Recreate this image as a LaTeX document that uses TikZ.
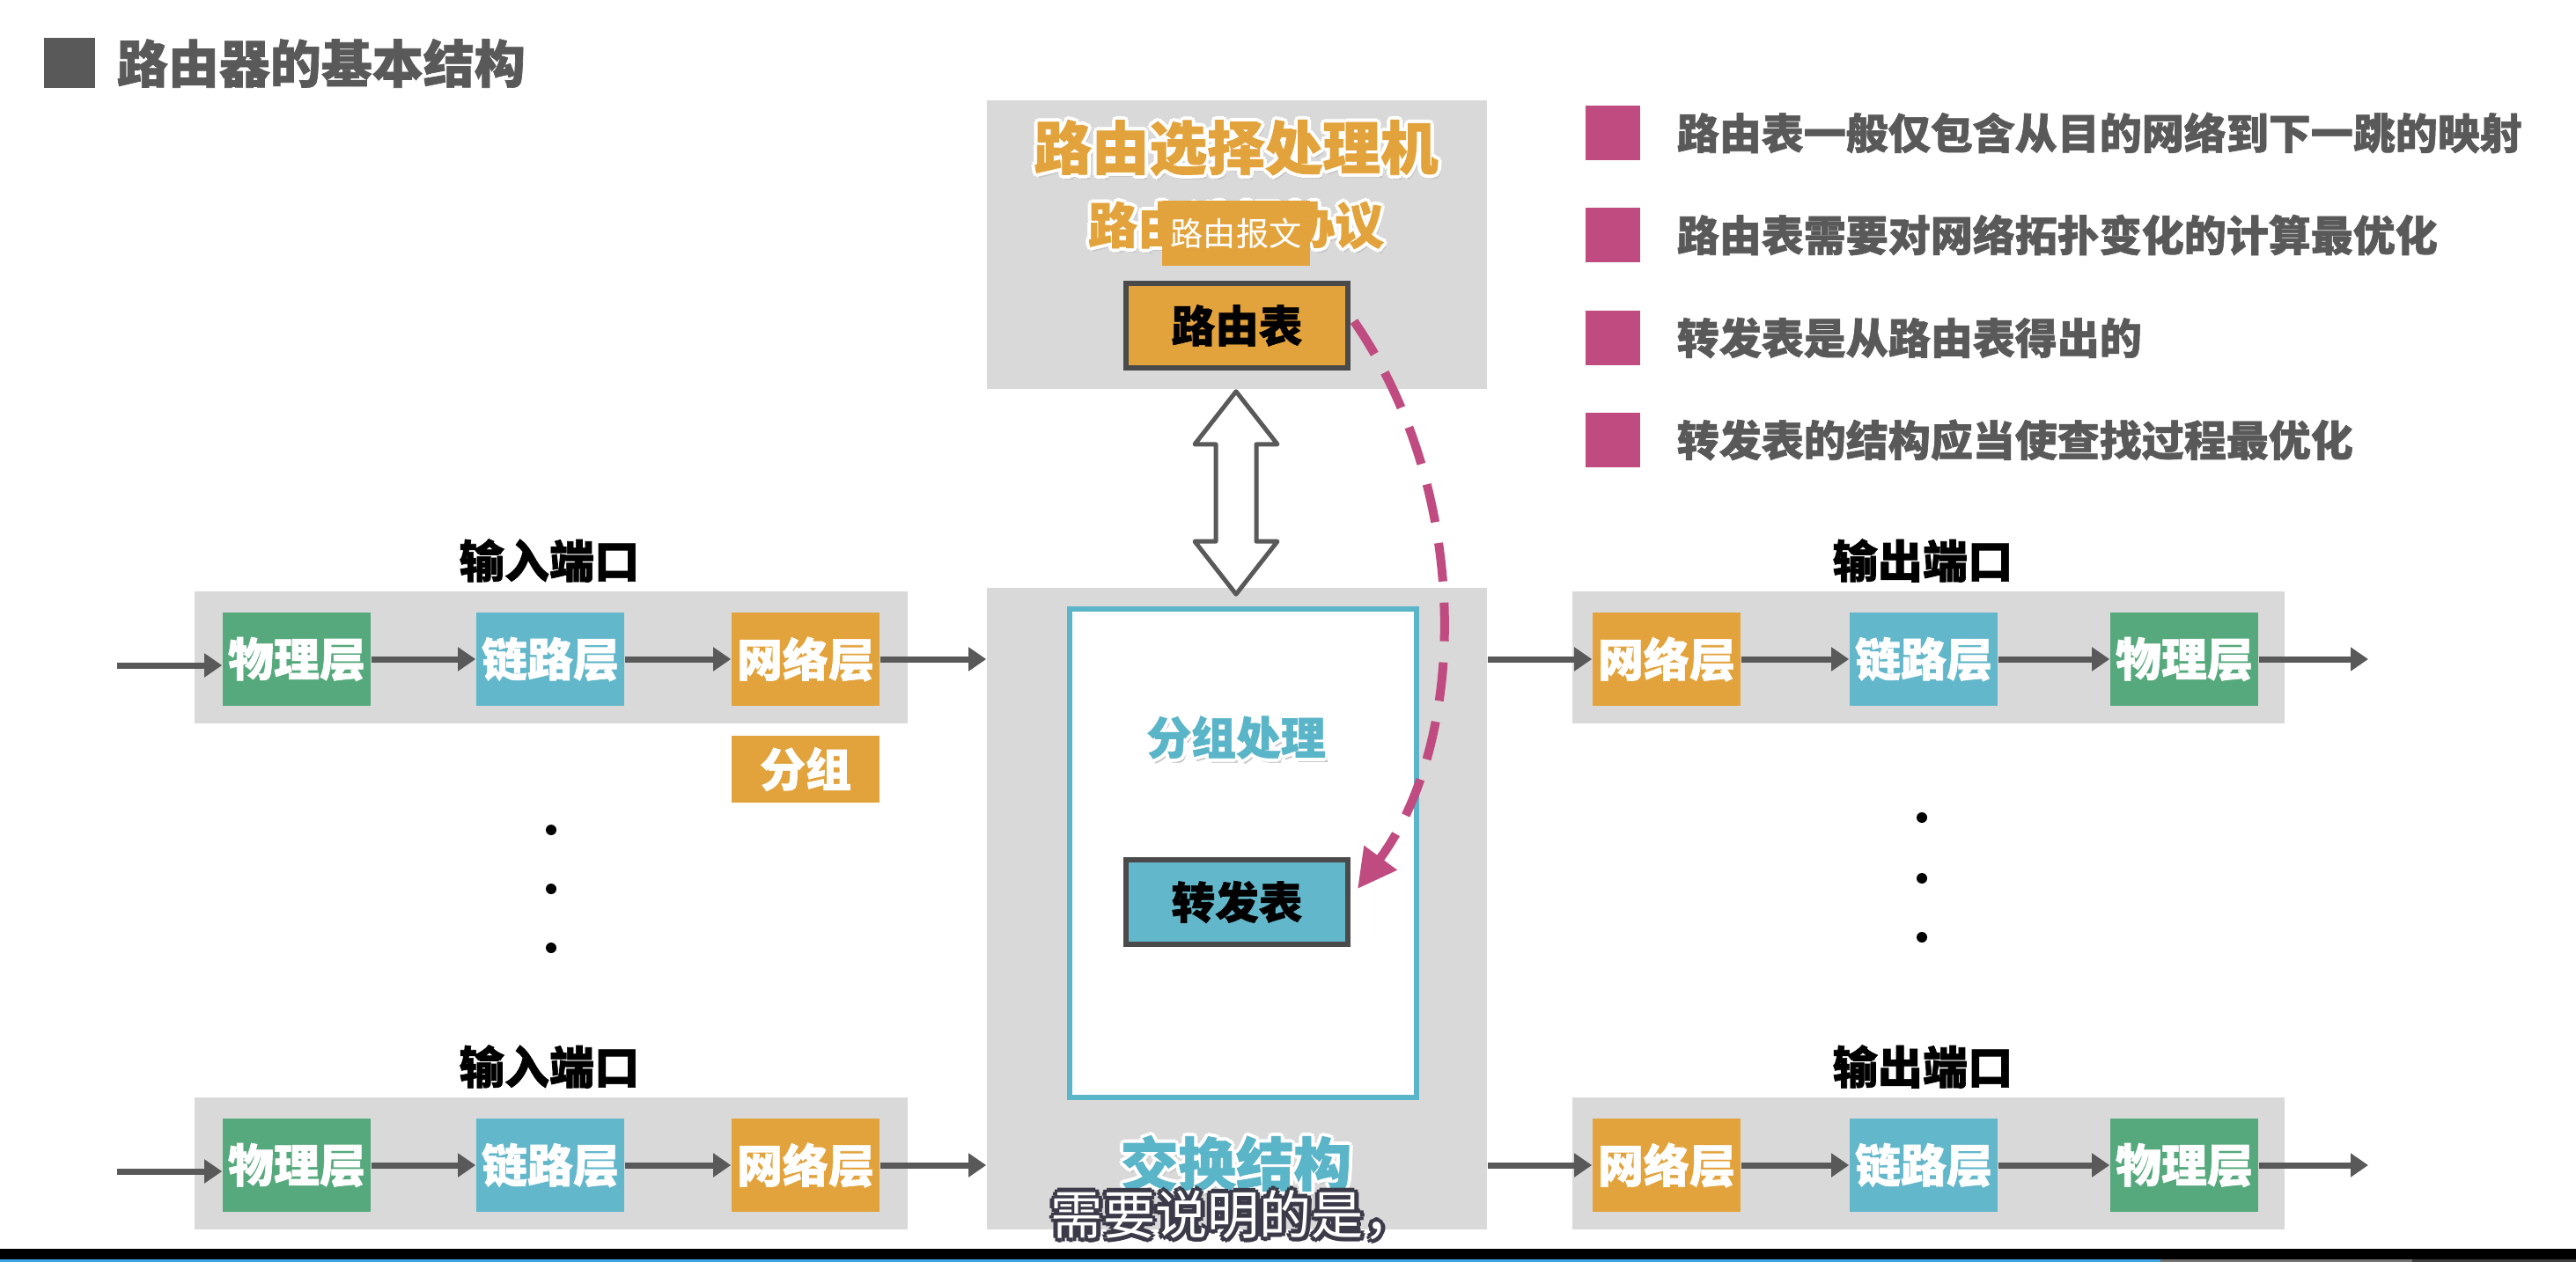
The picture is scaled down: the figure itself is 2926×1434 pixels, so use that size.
\documentclass[tikz,border=0pt]{standalone}
\usepackage{fontspec}
\setmainfont{Noto Sans CJK SC}[BoldFeatures={FakeBold=1.2}]
\usetikzlibrary{arrows.meta,calc}
\definecolor{bggray}{HTML}{D9D9D9}
\definecolor{dgray}{HTML}{595959}
\definecolor{lgreen}{HTML}{56A97C}
\definecolor{lblue}{HTML}{63B7CB}
\definecolor{lorange}{HTML}{E3A33C}
\definecolor{lpink}{HTML}{BF4B80}
\definecolor{lcyan}{HTML}{5BB5C8}
\definecolor{subdark}{HTML}{3A3A48}
\definecolor{barblue}{HTML}{3DA2E3}
\definecolor{bordgray}{HTML}{4A4A4A}
\tikzset{
  gbox/.style={fill=bggray, draw=none, inner sep=0pt},
  layer/.style={draw=none, inner sep=0pt, minimum width=42pt, minimum height=26.5pt,
    text=white, font=\fontsize{13pt}{13pt}\selectfont\bfseries},
  flow/.style={draw=dgray, line width=1.75pt, -{Triangle[length=5pt,width=6.5pt]}},
  portlbl/.style={inner sep=0pt, text=black, font=\fontsize{12.8pt}{12.8pt}\selectfont\bfseries},
  bsq/.style={fill=lpink, draw=none, inner sep=0pt, minimum width=15.5pt, minimum height=15.5pt},
  btxt/.style={anchor=west, inner sep=0pt, text=dgray, font=\fontsize{12pt}{12pt}\selectfont\bfseries},
  tablebox/.style={draw=bordgray, line width=1.5pt, inner sep=0pt, minimum width=63pt,
    minimum height=24pt, text=black, font=\fontsize{12.4pt}{12.4pt}\selectfont\bfseries},
  dotnode/.style={circle, fill=black, inner sep=0pt, minimum size=3pt},
  pinkdash/.style={draw=lpink, line width=2.5pt, dash pattern=on 11pt off 6pt,
    -{Triangle[length=11pt,width=11pt]}},
}
\newcommand{\halotext}[5]{%
  \node[font=#3, text=black!22, inner sep=0pt] (#1-sh) at ($(#2)+(3,5)$) {#5};
  \foreach \a in {0,45,...,315}{\node[font=#3, text=white, inner sep=0pt] (#1-h\a) at ($(#2)+(\a:4)$) {#5};}
  \node[font=#3, text=#4, inner sep=0pt] (#1) at (#2) {#5};}
\begin{document}
\begin{tikzpicture}[x=0.25pt, y=-0.25pt]
\useasboundingbox (0,0) rectangle (2926,1434);
\fill[white] (0,0) rectangle (2926,1434);

% title
\node[fill=dgray, minimum width=14.5pt, minimum height=14.25pt, inner sep=0pt] (tsq) at (79,72) {};
\node[anchor=west, inner sep=0pt, text=dgray, font=\fontsize{14.5pt}{14.5pt}\selectfont\bfseries] (title) at (132,72) {路由器的基本结构};

% bullets
\foreach \y/\t [count=\i] in {151/路由表一般仅包含从目的网络到下一跳的映射, 267/路由表需要对网络拓扑变化的计算最优化, 384/转发表是从路由表得出的, 500/转发表的结构应当使查找过程最优化}{
  \node[bsq] (bq\i) at (1832,\y) {};
  \node[btxt] (bt\i) at (1904,\y) {\t};
}

% routing processor
\node[gbox, minimum width=142pt, minimum height=82pt] (rp) at (1405,278) {};
\coordinate (t1p) at (1404,168);
\halotext{rpt1}{t1p}{\fontsize{16.4pt}{16.4pt}\selectfont\bfseries}{lorange}{路由选择处理机}
\coordinate (t2p) at (1404,256);
\halotext{rpt2}{t2p}{\fontsize{14pt}{14pt}\selectfont\bfseries}{lorange}{路由选择协议}
\node[fill=lorange, inner sep=0pt, minimum width=42pt, minimum height=18.5pt, text=white,
  font=\fontsize{9.3pt}{9.3pt}\selectfont] (msg) at (1404,265) {路由报文};
\node[tablebox, fill=lorange] (rt) at (1405,370) {路由表};

% switching fabric
\node[gbox, minimum width=142pt, minimum height=182.25pt] (sw) at (1405,1032.5) {};
\node[draw=lcyan, fill=white, line width=1.5pt, inner sep=0pt, minimum width=98.5pt, minimum height=138.75pt] (frame) at (1412,969.5) {};
\coordinate (pp) at (1404,838);
\halotext{proc}{pp}{\fontsize{12.7pt}{12.7pt}\selectfont\bfseries}{lcyan}{分组处理}
\node[tablebox, fill=lblue] (fw) at (1405,1025) {转发表};
\coordinate (swp) at (1404,1322);
\halotext{swt}{swp}{\fontsize{16.4pt}{16.4pt}\selectfont\bfseries}{lcyan}{交换结构}

% double arrow
\coordinate (dT) at ($(rp.south)+(-1,2)$);
\coordinate (dB) at ($(sw.north)+(-1,8)$);
\draw[draw=dgray, fill=white, line width=1.25pt, line join=round]
  (dT) -- ($(dT)+(47,60)$) -- ($(dT)+(23,60)$) -- ($(dB)+(23,-60)$) -- ($(dB)+(47,-60)$) -- (dB)
  -- ($(dB)+(-47,-60)$) -- ($(dB)+(-23,-60)$) -- ($(dT)+(-23,60)$) -- ($(dT)+(-47,60)$) -- cycle;

% pink dashed curve
\draw[pinkdash] ($(rt.east)+(4,-5)$) .. controls (1672,560) and (1668,840) .. ($(fw.east)+(8,-15)$);

% input ports
\foreach \dy/\r in {0/1, 575/2}{
  \node[portlbl] (inl\r) at (624,637+\dy) {输入端口};
  \node[gbox, minimum width=202.5pt, minimum height=37.5pt] (inp\r) at (626,747+\dy) {};
  \node[layer, fill=lgreen] (iph\r) at (337,749+\dy) {物理层};
  \node[layer, fill=lblue] (ilk\r) at (625,749+\dy) {链路层};
  \node[layer, fill=lorange] (inw\r) at (915,749+\dy) {网络层};
  \coordinate (iin\r) at (133,756+\dy);
  \draw[flow] (iin\r) -- (iin\r -| iph\r.west);
  \draw[flow] (iph\r) -- (ilk\r);
  \draw[flow] (ilk\r) -- (inw\r);
  \draw[flow] (inw\r) -- (inw\r -| sw.west);
}
\node[layer, fill=lorange, minimum height=19pt] (grp) at (915,874) {分组};

% output ports
\foreach \dy/\r in {0/1, 575/2}{
  \node[portlbl] (outl\r) at (2184,637+\dy) {输出端口};
  \node[gbox, minimum width=202.25pt, minimum height=37.5pt] (outp\r) at (2190,747+\dy) {};
  \node[layer, fill=lorange] (onw\r) at (1893,749+\dy) {网络层};
  \node[layer, fill=lblue] (olk\r) at (2185,749+\dy) {链路层};
  \node[layer, fill=lgreen] (oph\r) at (2481,749+\dy) {物理层};
  \coordinate (oout\r) at (2690,749+\dy);
  \draw[flow] (onw\r -| sw.east) -- (onw\r);
  \draw[flow] (onw\r) -- (olk\r);
  \draw[flow] (olk\r) -- (oph\r);
  \draw[flow] (oph\r) -- (oout\r);
}

% dots
\node[dotnode] (di1) at (626,943) {};
\node[dotnode] (di2) at (626,1010) {};
\node[dotnode] (di3) at (626,1077) {};
\node[dotnode] (do1) at (2183,929) {};
\node[dotnode] (do2) at (2183,998) {};
\node[dotnode] (do3) at (2183,1065) {};

% subtitle
\coordinate (subp) at (1401,1381);
\foreach \a in {0,45,...,315}{\node[font=\fontsize{14.8pt}{14.8pt}\selectfont, text=subdark, inner sep=0pt] (sub-h\a) at ($(subp)+(\a:5)$) {需要说明的是，};}
\node[font=\fontsize{14.8pt}{14.8pt}\selectfont, text=white, inner sep=0pt] (sub) at (subp) {需要说明的是，};

% bottom bar
\fill[black] (0,1419) rectangle (2926,1434);
\fill[barblue] (0,1431) rectangle (2454,1434);
\fill[black!55] (2454,1431) rectangle (2740,1434);
\fill[black!75] (2740,1431) rectangle (2926,1434);
\end{tikzpicture}
\end{document}
